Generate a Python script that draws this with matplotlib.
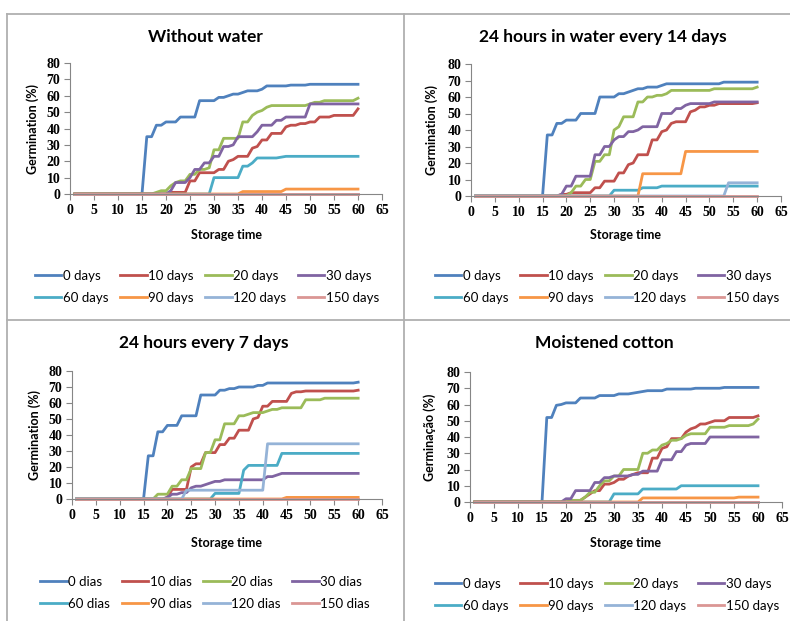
import matplotlib.pyplot as plt
from matplotlib.lines import Line2D

W, H = 790, 621

days = list(range(1, 61))

labels_en = ["0 days", "10 days", "20 days", "30 days",
             "60 days", "90 days", "120 days", "150 days"]
labels_pt = ["0 dias", "10 dias", "20 dias", "30 dias",
             "60 dias", "90 dias", "120 dias", "150 dias"]
colors = ["#4F81BD", "#C0504D", "#9BBB59", "#8064A2",
          "#4BACC6", "#F79646", "#95B3D7", "#DA9694"]

no_germination = [0, 0, 0, 0, 0, 0, 0, 0, 0, 0, 0, 0, 0, 0, 0,
                  0, 0, 0, 0, 0, 0, 0, 0, 0, 0, 0, 0, 0, 0, 0,
                  0, 0, 0, 0, 0, 0, 0, 0, 0, 0, 0, 0, 0, 0, 0,
                  0, 0, 0, 0, 0, 0, 0, 0, 0, 0, 0, 0, 0, 0, 0]

# Without water
dry_0 = [0, 0, 0, 0, 0, 0, 0, 0, 0, 0, 0, 0, 0, 0, 0,
         35, 35, 42, 42, 44, 44, 44, 47, 47, 47, 47, 57, 57, 57, 57,
         59, 59, 60, 61, 61, 62, 63, 63, 63, 64, 66, 66, 66, 66, 66,
         66.5, 66.5, 66.5, 66.5, 67, 67, 67, 67, 67, 67, 67, 67, 67, 67, 67]
dry_10 = [0, 0, 0, 0, 0, 0, 0, 0, 0, 0, 0, 0, 0, 0, 0,
          0, 0, 0, 0, 0, 1, 1, 1, 1, 8, 8, 13, 13, 13, 13,
          15, 15, 20, 21, 23, 23, 23, 28, 29, 33, 33, 37, 37, 37, 41,
          42, 42, 43, 43, 44, 44, 47, 47, 47, 48, 48, 48, 48, 48, 52]
dry_20 = [0, 0, 0, 0, 0, 0, 0, 0, 0, 0, 0, 0, 0, 0, 0,
          0, 0, 1, 2, 2, 5, 7, 8, 8, 12, 12, 15, 15, 16, 27,
          27, 34, 34, 34, 34, 44, 44, 48, 50, 51, 53, 54, 54, 54, 54,
          54, 54, 54, 54, 55, 56, 56, 57, 57, 57, 57, 57, 57, 57, 58.5]
dry_30 = [0, 0, 0, 0, 0, 0, 0, 0, 0, 0, 0, 0, 0, 0, 0,
          0, 0, 0, 0, 0, 2, 7, 7, 7, 10, 15, 15, 19, 19, 23,
          23, 29, 29, 30, 35, 35, 35, 35, 38, 42, 42, 42, 45, 45, 47,
          47, 47, 47, 47, 55, 55, 55, 55, 55, 55, 55, 55, 55, 55, 55]
dry_60 = [0, 0, 0, 0, 0, 0, 0, 0, 0, 0, 0, 0, 0, 0, 0,
          0, 0, 0, 0, 0, 0, 0, 0, 0, 0, 0, 0, 0, 0, 10,
          10, 10, 10, 10, 10, 17, 17, 19, 22, 22, 22, 22, 22, 22.5, 23,
          23, 23, 23, 23, 23, 23, 23, 23, 23, 23, 23, 23, 23, 23, 23]
dry_90 = [0, 0, 0, 0, 0, 0, 0, 0, 0, 0, 0, 0, 0, 0, 0,
          0, 0, 0, 0, 0, 0, 0, 0, 0, 0, 0, 0, 0, 0, 0,
          0, 0, 0, 0, 0, 1.5, 1.5, 1.5, 1.5, 1.5, 1.5, 1.5, 1.5, 1.5, 3,
          3, 3, 3, 3, 3, 3, 3, 3, 3, 3, 3, 3, 3, 3, 3]

# 24 hours in water every 14 days
w14_0 = [0, 0, 0, 0, 0, 0, 0, 0, 0, 0, 0, 0, 0, 0, 0,
         37, 37, 44, 44, 46, 46, 46, 50, 50, 50, 50, 60, 60, 60, 60,
         62, 62, 63, 64, 65, 65, 66, 66, 66, 67, 68, 68, 68, 68, 68,
         68, 68, 68, 68, 68, 68, 68, 69, 69, 69, 69, 69, 69, 69, 69]
w14_10 = [0, 0, 0, 0, 0, 0, 0, 0, 0, 0, 0, 0, 0, 0, 0,
          0, 0, 0, 1, 1, 2, 2, 2, 2, 2, 5, 5, 9, 9, 9,
          14, 14, 19, 20, 25, 25, 25, 34, 34, 39, 40, 44, 45, 45, 45,
          51, 52, 54, 54, 55, 55, 56, 56, 56, 56, 56, 56, 56, 56, 56.5]
w14_20 = [0, 0, 0, 0, 0, 0, 0, 0, 0, 0, 0, 0, 0, 0, 0,
          0, 0, 0, 0, 0, 2, 6, 6, 10, 10, 21, 21, 25, 25, 40,
          42, 48, 48, 48, 57, 57, 60, 60, 61, 61, 62, 64, 64, 64, 64,
          64, 64, 64, 64, 64, 65, 65, 65, 65, 65, 65, 65, 65, 65, 66]
w14_30 = [0, 0, 0, 0, 0, 0, 0, 0, 0, 0, 0, 0, 0, 0, 0,
          0, 0, 0, 1, 6, 6, 12, 12, 12, 12, 25, 25, 30, 30, 34,
          36, 36, 39, 39, 40, 42, 42, 42, 42, 50, 50, 50, 53, 53, 55,
          56, 56, 56, 56, 56, 57, 57, 57, 57, 57, 57, 57, 57, 57, 57]
w14_60 = [0, 0, 0, 0, 0, 0, 0, 0, 0, 0, 0, 0, 0, 0, 0,
          0, 0, 0, 0, 0, 0, 0, 0, 0, 0, 0, 0, 0, 0, 3.5,
          3.5, 3.5, 3.5, 3.5, 3.5, 5, 5, 5, 5, 6, 6, 6, 6, 6, 6,
          6, 6, 6, 6, 6, 6, 6, 6, 6, 6, 6, 6, 6, 6, 6]
w14_90 = [0, 0, 0, 0, 0, 0, 0, 0, 0, 0, 0, 0, 0, 0, 0,
          0, 0, 0, 0, 0, 0, 0, 0, 0, 0, 0, 0, 0, 0, 0,
          0, 0, 0, 0, 0, 13.5, 13.5, 13.5, 13.5, 13.5, 13.5, 13.5, 13.5, 13.5, 27,
          27, 27, 27, 27, 27, 27, 27, 27, 27, 27, 27, 27, 27, 27, 27]
w14_120 = [0, 0, 0, 0, 0, 0, 0, 0, 0, 0, 0, 0, 0, 0, 0,
           0, 0, 0, 0, 0, 0, 0, 0, 0, 0, 0, 0, 0, 0, 0,
           0, 0, 0, 0, 0, 0, 0, 0, 0, 0, 0, 0, 0, 0, 0,
           0, 0, 0, 0, 0, 0, 0, 0, 8, 8, 8, 8, 8, 8, 8]

# 24 hours every 7 days
w7_0 = [0, 0, 0, 0, 0, 0, 0, 0, 0, 0, 0, 0, 0, 0, 0,
        27, 27, 42, 42, 46, 46, 46, 52, 52, 52, 52, 65, 65, 65, 65,
        68, 68, 69, 69, 70, 70, 70, 70, 71, 71, 72.5, 72.5, 72.5, 72.5, 72.5,
        72.5, 72.5, 72.5, 72.5, 72.5, 72.5, 72.5, 72.5, 72.5, 72.5, 72.5, 72.5, 72.5, 72.5, 73]
w7_10 = [0, 0, 0, 0, 0, 0, 0, 0, 0, 0, 0, 0, 0, 0, 0,
         0, 0, 0, 0, 1, 6, 6, 6, 6, 20, 22, 22, 29, 29, 29,
         34, 34, 38, 38, 43, 43, 43, 50, 51, 58, 58, 61, 61, 61, 61,
         66, 67, 67, 67.5, 67.5, 67.5, 67.5, 67.5, 67.5, 67.5, 67.5, 67.5, 67.5, 67.5, 68]
w7_20 = [0, 0, 0, 0, 0, 0, 0, 0, 0, 0, 0, 0, 0, 0, 0,
         0, 0, 3, 3, 3, 8, 8, 12, 12, 19, 19, 19, 29, 29, 37,
         37, 47, 47, 47, 52, 52, 53, 54, 54, 54, 55, 56, 56, 57, 57,
         57, 57, 57, 62, 62, 62, 62, 63, 63, 63, 63, 63, 63, 63, 63]
w7_30 = [0, 0, 0, 0, 0, 0, 0, 0, 0, 0, 0, 0, 0, 0, 0,
         0, 0, 0, 0, 1, 3, 3, 4, 4, 7, 8, 8, 9, 10, 11,
         11, 12, 12, 12, 12, 12, 12, 12, 12, 12, 14, 14, 15, 16, 16,
         16, 16, 16, 16, 16, 16, 16, 16, 16, 16, 16, 16, 16, 16, 16]
w7_60 = [0, 0, 0, 0, 0, 0, 0, 0, 0, 0, 0, 0, 0, 0, 0,
         0, 0, 0, 0, 0, 0, 0, 0, 0, 0, 0, 0, 0, 0, 3.5,
         3.5, 3.5, 3.5, 3.5, 3.5, 18, 21, 21, 21, 21, 21, 21, 21, 28.5, 28.5,
         28.5, 28.5, 28.5, 28.5, 28.5, 28.5, 28.5, 28.5, 28.5, 28.5, 28.5, 28.5, 28.5, 28.5, 28.5]
w7_90 = [0, 0, 0, 0, 0, 0, 0, 0, 0, 0, 0, 0, 0, 0, 0,
         0, 0, 0, 0, 0, 0, 0, 0, 0, 0, 0, 0, 0, 0, 0,
         0, 0, 0, 0, 0, 0, 0, 0, 0, 0, 0, 0, 0, 0, 1,
         1, 1, 1, 1, 1, 1, 1, 1, 1, 1, 1, 1, 1, 1, 1]
w7_120 = [0, 0, 0, 0, 0, 0, 0, 0, 0, 0, 0, 0, 0, 0, 0,
          0, 0, 0, 0, 0, 0, 0, 0, 5.5, 5.5, 5.5, 5.5, 5.5, 5.5, 5.5,
          5.5, 5.5, 5.5, 5.5, 5.5, 5.5, 5.5, 5.5, 5.5, 5.5, 34.5, 34.5, 34.5, 34.5, 34.5,
          34.5, 34.5, 34.5, 34.5, 34.5, 34.5, 34.5, 34.5, 34.5, 34.5, 34.5, 34.5, 34.5, 34.5, 34.5]

# Moistened cotton
cot_0 = [0, 0, 0, 0, 0, 0, 0, 0, 0, 0, 0, 0, 0, 0, 0,
         52, 52, 59.5, 60, 61, 61, 61, 64, 64, 64, 64, 65.5, 65.5, 65.5, 65.5,
         66.5, 66.5, 66.5, 67, 67.5, 68, 68.5, 68.5, 68.5, 68.5, 69.5, 69.5, 69.5, 69.5, 69.5,
         69.5, 70, 70, 70, 70, 70, 70, 70.5, 70.5, 70.5, 70.5, 70.5, 70.5, 70.5, 70.5]
cot_10 = [0, 0, 0, 0, 0, 0, 0, 0, 0, 0, 0, 0, 0, 0, 0,
          0, 0, 0, 0, 0, 0, 1, 1, 3, 5, 7, 7, 11, 11, 12,
          14, 14, 16, 17, 18, 18, 18, 27, 27, 33, 34, 39, 39, 39, 43,
          45, 46, 48, 48, 49, 50, 50, 50, 52, 52, 52, 52, 52, 52, 53]
cot_20 = [0, 0, 0, 0, 0, 0, 0, 0, 0, 0, 0, 0, 0, 0, 0,
          0, 0, 0, 0, 0, 1, 1, 1, 3, 6, 6, 10, 13, 13, 16,
          16, 20, 20, 20, 20, 30, 30, 32, 32, 35, 36, 38, 38, 39, 41,
          42, 42, 42, 42, 46, 46, 46, 46, 47, 47, 47, 47, 47, 48, 51]
cot_30 = [0, 0, 0, 0, 0, 0, 0, 0, 0, 0, 0, 0, 0, 0, 0,
          0, 0, 0, 0, 2, 2, 7, 7, 7, 7, 12, 12, 15, 15, 16,
          16, 16, 16, 17, 17, 19, 19, 19, 19, 26, 26, 26, 31, 31, 35,
          36, 36, 36, 36, 40, 40, 40, 40, 40, 40, 40, 40, 40, 40, 40]
cot_60 = [0, 0, 0, 0, 0, 0, 0, 0, 0, 0, 0, 0, 0, 0, 0,
          0, 0, 0, 0, 0, 0, 0, 0, 0, 0, 0, 0, 0, 0, 5,
          5, 5, 5, 5, 5, 8, 8, 8, 8, 8, 8, 8, 8, 10, 10,
          10, 10, 10, 10, 10, 10, 10, 10, 10, 10, 10, 10, 10, 10, 10]
cot_90 = [0, 0, 0, 0, 0, 0, 0, 0, 0, 0, 0, 0, 0, 0, 0,
          0, 0, 0, 0, 0, 0, 0, 0, 0, 0, 0, 0, 0, 0, 0,
          0, 0, 0, 0, 0, 2.5, 2.5, 2.5, 2.5, 2.5, 2.5, 2.5, 2.5, 2.5, 2.5,
          2.5, 2.5, 2.5, 2.5, 2.5, 2.5, 2.5, 2.5, 2.5, 2.5, 3, 3, 3, 3, 3]


def fig_xy(x, y):
    return x / W, 1 - y / H


def draw_panel(fig, box, series, title, title_pos, ylabel, ylabel_x,
               xlabel_y, legend_labels, legend_pos):
    left, top, right, bottom = box
    ax = fig.add_axes([left / W, 1 - bottom / H, (right - left) / W, (bottom - top) / H])
    for values, color in zip(series, colors):
        ax.plot(days, values, color=color, lw=2.0, clip_on=False)
    ax.set_xlim(0, 65)
    ax.set_ylim(0, 80)
    ax.set_xticks(range(0, 66, 5))
    ax.set_yticks(range(0, 81, 10))
    for side in ["top", "right"]:
        ax.spines[side].set_visible(False)
    for side in ["left", "bottom"]:
        ax.spines[side].set_color("#868686")
    ax.tick_params(direction="out", length=4, color="#868686", labelsize=10, pad=3)
    for lab in ax.get_xticklabels() + ax.get_yticklabels():
        lab.set_fontfamily("Liberation Serif")
        lab.set_fontweight("bold")

    tx, ty = fig_xy(*title_pos)
    fig.text(tx, ty, title, ha="center", va="center", fontsize=12.5,
             fontweight="bold", family="Lato")
    yx, yy = fig_xy(ylabel_x, (top + bottom) / 2)
    fig.text(yx, yy, ylabel, rotation=90, ha="center", va="center",
             fontsize=9, fontweight="bold", family="Lato")
    xx, xy = fig_xy((left + right) / 2, xlabel_y)
    fig.text(xx, xy, "Storage time", ha="center", va="center",
             fontsize=9, fontweight="bold", family="Lato")

    # legend is filled row by row, matplotlib fills by column
    order = [0, 4, 1, 5, 2, 6, 3, 7]
    handles = [Line2D([], [], color=colors[i], lw=2.0) for i in order]
    names = [legend_labels[i] for i in order]
    fig.legend(handles, names, loc="center", bbox_to_anchor=fig_xy(*legend_pos),
               ncol=4, frameon=False, handlelength=2.0,
               handletextpad=0.1, columnspacing=0.9, labelspacing=0.75,
               prop={"family": "Lato", "size": 9.5})
    return ax


fig = plt.figure(figsize=(W / 100, H / 100), dpi=100)

draw_panel(fig, (70, 63, 382, 194),
           [dry_0, dry_10, dry_20, dry_30, dry_60, dry_90, no_germination, no_germination],
           "Without water", (205, 37), "Germination (%)", 33, 235,
           labels_en, (207, 287))
draw_panel(fig, (471, 64, 781, 196),
           [w14_0, w14_10, w14_20, w14_30, w14_60, w14_90, w14_120, no_germination],
           "24 hours in water every 14 days", (603, 37), "Germination (%)", 432, 235,
           labels_en, (607, 287))
draw_panel(fig, (72, 371, 382, 499),
           [w7_0, w7_10, w7_20, w7_30, w7_60, w7_90, w7_120, no_germination],
           "24 hours every 7 days", (204, 343), "Germination (%)", 35, 543,
           labels_pt, (205, 593))
draw_panel(fig, (470, 372, 782, 502),
           [cot_0, cot_10, cot_20, cot_30, cot_60, cot_90, no_germination, no_germination],
           "Moistened cotton", (604, 343), "Germinação (%)", 430, 543,
           labels_en, (607, 595))

# panel frames
frame = dict(color="#b0b0b0", lw=1.3, transform=fig.transFigure)
for (x0, y0), (x1, y1) in [((7, 14), (7, 621)), ((7, 14), (790, 14)),
                           ((404, 14), (404, 621)), ((7, 320), (790, 320))]:
    a, b = fig_xy(x0, y0)
    c, d = fig_xy(x1, y1)
    fig.add_artist(Line2D([a, c], [b, d], **frame))

fig.savefig("out.png", dpi=100)
